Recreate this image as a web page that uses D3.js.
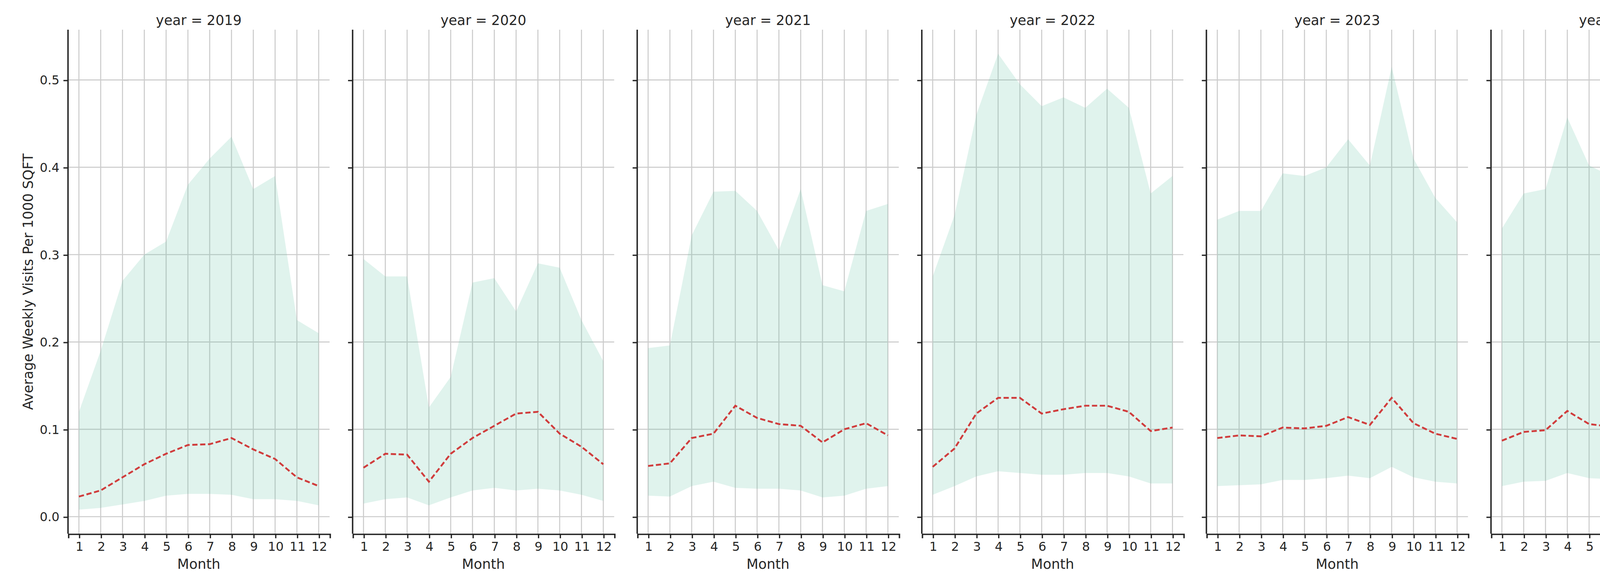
<!DOCTYPE html>
<html><head><meta charset="utf-8">
<script src="https://cdn.jsdelivr.net/npm/d3@7"></script>
<style>body{margin:0;background:#fff}svg{display:block}text{font-family:"DejaVu Sans",sans-serif;fill:#262626}</style>
</head><body>
<script>
const years=[2019,2020,2021,2022,2023,2024,2025];
const monthTicks=[1,2,3,4,5,6,7,8,9,10,11,12];
const yTicks=[0,0.1,0.2,0.3,0.4,0.5];
const upper={
2019:[0.12,0.19,0.27,0.30,0.315,0.38,0.41,0.435,0.375,0.39,0.225,0.21],
2020:[0.295,0.275,0.275,0.125,0.16,0.268,0.273,0.235,0.29,0.285,0.225,0.178],
2021:[0.193,0.196,0.322,0.372,0.373,0.35,0.305,0.375,0.265,0.258,0.35,0.358],
2022:[0.275,0.345,0.46,0.53,0.495,0.47,0.48,0.468,0.49,0.468,0.37,0.39],
2023:[0.34,0.35,0.35,0.393,0.39,0.4,0.432,0.402,0.515,0.41,0.365,0.337],
2024:[0.33,0.37,0.375,0.457,0.402,0.39,0.483,0.455,0.398,0.408,0.38,0.367],
2025:[0.385,0.358,0.42,0.47,0.45,0.447,0.51]};
const median={
2019:[0.023,0.03,0.045,0.06,0.072,0.082,0.083,0.09,0.077,0.066,0.045,0.035],
2020:[0.056,0.072,0.071,0.04,0.072,0.09,0.104,0.118,0.12,0.095,0.08,0.06],
2021:[0.058,0.061,0.09,0.095,0.127,0.113,0.106,0.104,0.085,0.1,0.107,0.093],
2022:[0.057,0.078,0.118,0.136,0.136,0.118,0.123,0.127,0.127,0.12,0.098,0.102],
2023:[0.09,0.093,0.092,0.102,0.101,0.104,0.114,0.105,0.136,0.107,0.095,0.089],
2024:[0.087,0.097,0.099,0.121,0.106,0.103,0.127,0.12,0.104,0.107,0.1,0.096],
2025:[0.1,0.093,0.11,0.121,0.117,0.116,0.133]};
const lower={
2019:[0.008,0.01,0.014,0.018,0.024,0.026,0.026,0.025,0.02,0.02,0.018,0.013],
2020:[0.015,0.02,0.022,0.013,0.022,0.03,0.033,0.03,0.032,0.03,0.025,0.018],
2021:[0.024,0.023,0.035,0.04,0.033,0.032,0.032,0.03,0.022,0.024,0.032,0.035],
2022:[0.025,0.035,0.046,0.052,0.05,0.048,0.048,0.05,0.05,0.046,0.038,0.038],
2023:[0.035,0.036,0.037,0.042,0.042,0.044,0.047,0.044,0.057,0.045,0.04,0.038],
2024:[0.035,0.04,0.041,0.05,0.044,0.043,0.052,0.05,0.043,0.043,0.04,0.038],
2025:[0.04,0.038,0.043,0.049,0.047,0.047,0.054]};

const W=1568,H=448;
const svg=d3.select("body").append("svg").attr("width",5250).attr("height",1500).attr("viewBox",`0 0 ${W} ${H}`);
const yTop=22.7,yBot=408,pw=200,x0=52,step=217.6;
const y=d3.scaleLinear().domain([-0.0195,0.5575]).range([yBot,yTop]);
years.forEach((yr,i)=>{
  const left=x0+i*step;
  const g=svg.append("g").attr("transform",`translate(${left},0)`);
  const x=d3.scaleLinear().domain([0.5,12.5]).range([0,pw]);
  g.selectAll(".vg").data(monthTicks).join("line").attr("x1",d=>x(d)).attr("x2",d=>x(d)).attr("y1",yTop).attr("y2",yBot).attr("stroke","#cccccc").attr("stroke-width",0.8);
  g.selectAll(".hg").data(yTicks).join("line").attr("x1",0).attr("x2",pw).attr("y1",d=>y(d)).attr("y2",d=>y(d)).attr("stroke","#cccccc").attr("stroke-width",0.8);
  const data=upper[yr].map((u,j)=>({m:j+1,u,l:lower[yr][j],md:median[yr][j]}));
  g.append("path").datum(data).attr("fill","#66c2a5").attr("fill-opacity",0.2)
    .attr("d",d3.area().x(d=>x(d.m)).y0(d=>y(d.l)).y1(d=>y(d.u)));
  g.append("path").datum(data).attr("fill","none").attr("stroke","#d03c3c").attr("stroke-width",1.4).attr("stroke-dasharray","4,2")
    .attr("d",d3.line().x(d=>x(d.m)).y(d=>y(d.md)));
  const xa=g.append("g").attr("transform",`translate(0,${yBot})`).call(d3.axisBottom(x).tickValues(monthTicks).tickSize(3.5).tickPadding(3));
  xa.select(".domain").attr("stroke","#262626").attr("stroke-width",1.1);
  xa.selectAll("text").attr("font-size",9.5).style("fill","#262626");
  xa.selectAll(".tick line").attr("stroke","#262626");
  const ya=g.append("g").call(d3.axisLeft(y).tickValues(yTicks).tickFormat(d3.format(".1f")).tickSize(3.5).tickPadding(3));
  ya.select(".domain").attr("d",`M0,${yTop}V${yBot}`).attr("stroke","#262626").attr("stroke-width",1.1);
  ya.selectAll(".tick line").attr("stroke","#262626");
  if(i>0) ya.selectAll("text").remove(); else ya.selectAll("text").attr("font-size",9.5).style("fill","#262626");
  g.append("text").attr("x",pw/2).attr("y",19).attr("text-anchor","middle").attr("font-size",10.5).text(`year = ${yr}`);
  g.append("text").attr("x",pw/2).attr("y",435).attr("text-anchor","middle").attr("font-size",10.5).text("Month");
});
svg.append("text").attr("transform",`translate(25,${(yTop+yBot)/2}) rotate(-90)`).attr("text-anchor","middle").attr("font-size",10.5).text("Average Weekly Visits Per 1000 SQFT");
const lg=svg.append("g").attr("transform","translate(1419,36)");
lg.append("rect").attr("width",137).attr("height",32).attr("rx",2).attr("fill","#fff").attr("fill-opacity",0.8).attr("stroke","#d0d0d0").attr("stroke-width",0.8);
lg.append("line").attr("x1",5).attr("x2",26).attr("y1",8.5).attr("y2",8.5).attr("stroke","#d03c3c").attr("stroke-width",1.4).attr("stroke-dasharray","4,2");
lg.append("rect").attr("x",5).attr("y",19).attr("width",21).attr("height",8).attr("fill","#66c2a5").attr("fill-opacity",0.2);
lg.append("text").attr("x",33).attr("y",12).attr("font-size",10).text("Median");
lg.append("text").attr("x",33).attr("y",27).attr("font-size",10).text("25th-75th Percentile");
</script>
</body></html>
